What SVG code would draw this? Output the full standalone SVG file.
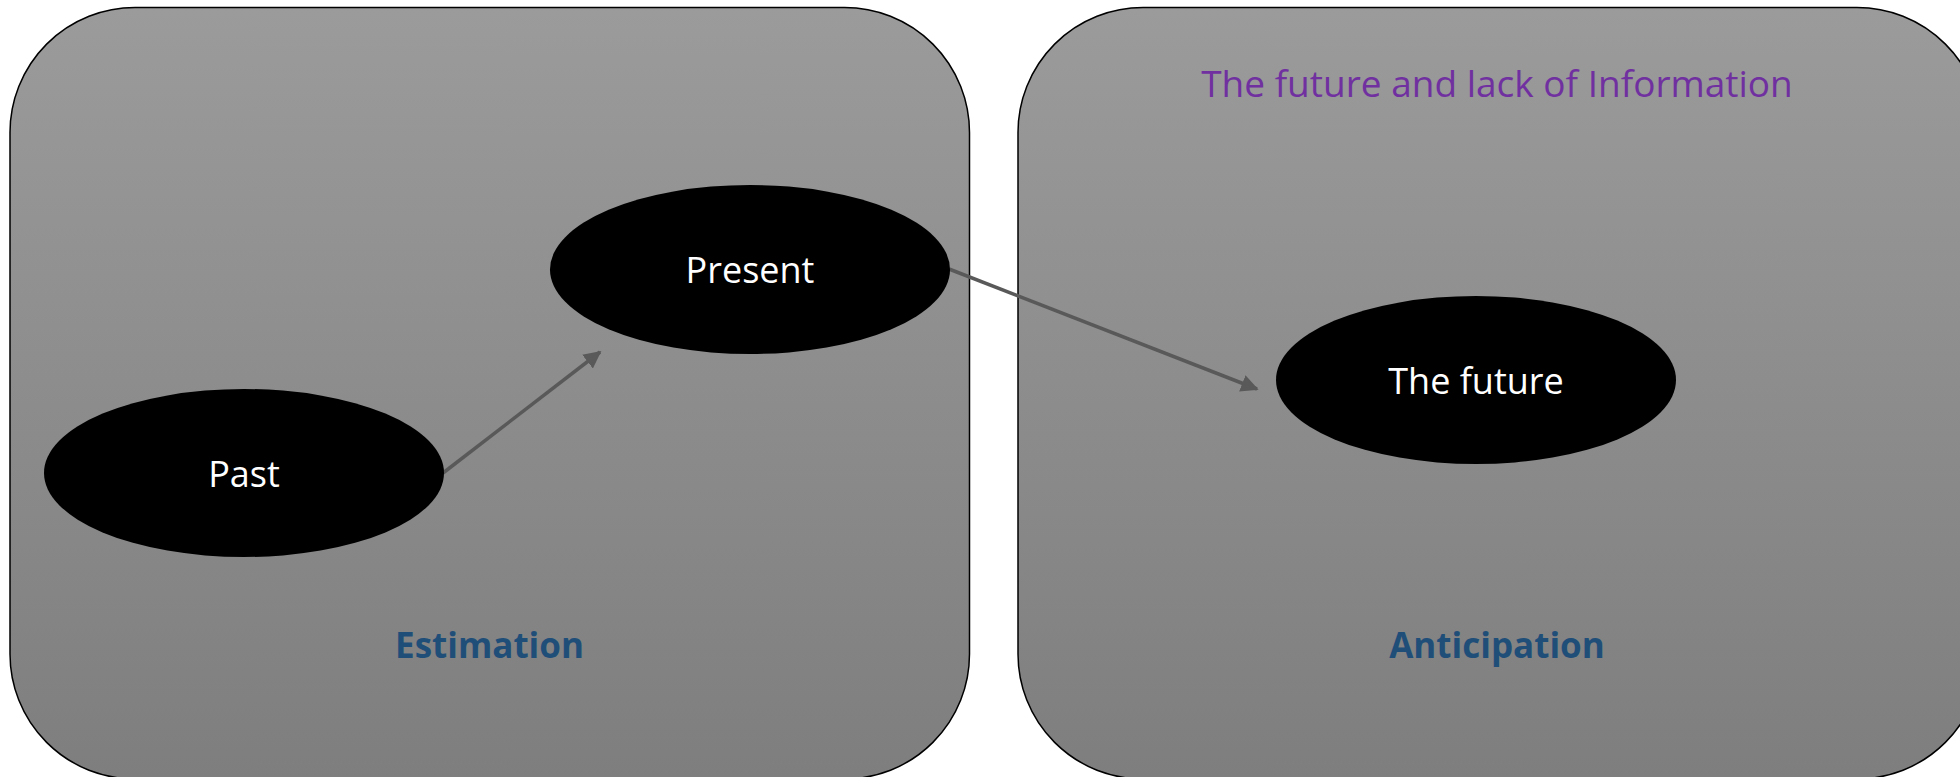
<svg xmlns="http://www.w3.org/2000/svg" width="1960" height="777" viewBox="0 0 1960 777">
<style>
.panel{stroke:#000;stroke-width:1.5;fill:url(#g)}
.node{fill:#000}
.lbl{font-family:"Open Sans","Liberation Sans",sans-serif;font-size:36px;fill:#fff;text-anchor:middle}
.cap{font-family:"Open Sans","Liberation Sans",sans-serif;font-size:35px;font-weight:bold;fill:#1F4E79;text-anchor:middle}
.title{font-family:"Open Sans","Liberation Sans",sans-serif;font-size:37px;fill:#7030A0;text-anchor:middle}
.conn{stroke:#595959;stroke-width:3.5;fill:none;marker-end:url(#ah)}
</style>
<defs>
<linearGradient id="g" x1="0" y1="0" x2="0" y2="1">
<stop offset="0" stop-color="#9b9b9b"/>
<stop offset="1" stop-color="#7e7e7e"/>
</linearGradient>
<marker id="ah" viewBox="0 0 10 10" refX="9" refY="5" markerWidth="5" markerHeight="5" orient="auto" markerUnits="strokeWidth">
<path d="M0,0 L10,5 L0,10 z" fill="#595959"/>
</marker>
</defs>
<rect width="1960" height="777" fill="#fff"/>
<g id="estimation">
<rect class="panel" x="10" y="7.5" width="959.5" height="771.5" rx="125" ry="125"/>
<text class="cap" x="489.5" y="658">Estimation</text>
</g>
<g id="anticipation">
<rect class="panel" x="1018" y="7.5" width="964" height="771.5" rx="125" ry="125"/>
<text class="title" x="1497" y="97">The future and lack of Information</text>
<text class="cap" x="1497" y="658">Anticipation</text>
</g>
<g id="connectors">
<line class="conn" x1="443" y1="473" x2="600" y2="352"/>
<line class="conn" x1="949" y1="269" x2="1257" y2="389"/>
</g>
<g id="past">
<ellipse class="node" cx="244" cy="473" rx="200" ry="84"/>
<text class="lbl" x="244" y="487">Past</text>
</g>
<g id="present">
<ellipse class="node" cx="750" cy="269.5" rx="200" ry="84.5"/>
<text class="lbl" x="750" y="283">Present</text>
</g>
<g id="future">
<ellipse class="node" cx="1476" cy="380" rx="200" ry="84"/>
<text class="lbl" x="1476" y="394">The future</text>
</g>
</svg>
